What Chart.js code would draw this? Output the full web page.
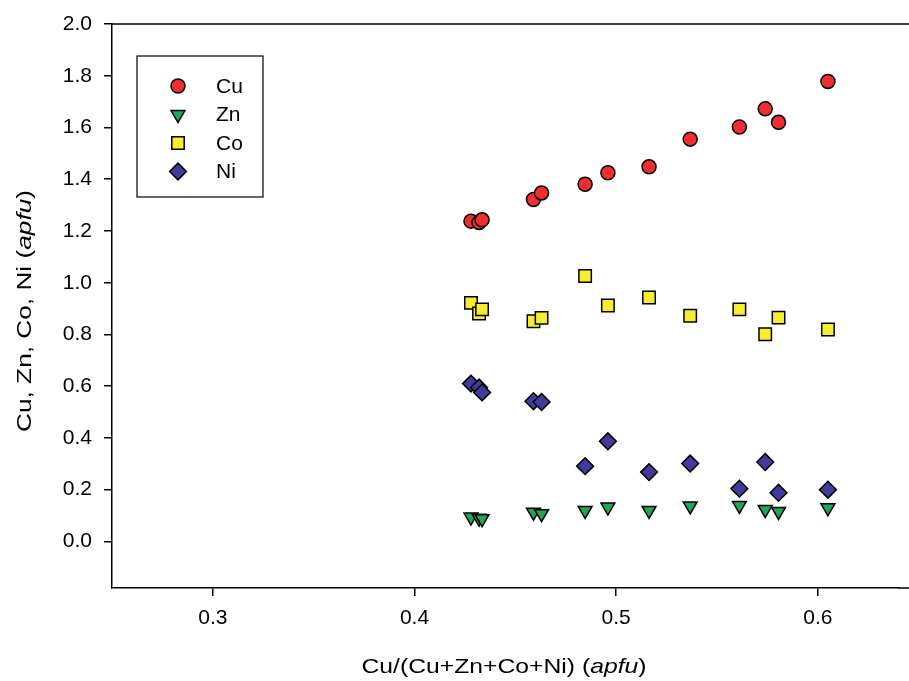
<!DOCTYPE html>
<html><head><meta charset="utf-8">
<style>html,body{margin:0;padding:0;overflow:hidden;background:#fff}
canvas{display:block}</style>
<script src="https://cdn.jsdelivr.net/npm/chart.js@4/dist/chart.umd.min.js"></script>
</head><body><canvas id="c" width="909" height="681" style="width:909px;height:681px"></canvas>
<script>
// Cu/(Cu+Zn+Co+Ni) ratio of each analysis
const xRatio = [0.428, 0.432, 0.4335, 0.459, 0.463, 0.4846, 0.4959, 0.5163, 0.5367, 0.5611, 0.5739, 0.5805, 0.605];
const cuValues = [1.238, 1.233, 1.243, 1.322, 1.347, 1.381, 1.425, 1.448, 1.555, 1.602, 1.672, 1.620, 1.778];
const znValues = [0.094, 0.090, 0.088, 0.113, 0.107, 0.120, 0.133, 0.120, 0.137, 0.139, 0.123, 0.116, 0.130];
const coValues = [0.922, 0.881, 0.897, 0.851, 0.864, 1.026, 0.912, 0.943, 0.872, 0.897, 0.801, 0.865, 0.819];
const niValues = [0.610, 0.595, 0.576, 0.542, 0.539, 0.291, 0.387, 0.268, 0.301, 0.204, 0.307, 0.188, 0.200];
const seriesNames = ['Cu', 'Zn', 'Co', 'Ni'];
const xTickValues = [0.3, 0.4, 0.5, 0.6];
const yTickValues = [0.0, 0.2, 0.4, 0.6, 0.8, 1.0, 1.2, 1.4, 1.6, 1.8, 2.0];

const FONT = "'Liberation Sans', Arial, sans-serif";
const X_MIN = 0.25;
const PX_PER_UNIT = 2016.7; // horizontal scale of the original (frame cropped on the right)
const toPts = arr => arr.map((v, i) => ({x: xRatio[i], y: v}));

const styles = [
  {pointStyle: 'circle', color: '#ee2f30', radius: 7, rotation: 0},
  {pointStyle: 'triangle', color: '#1fa85a', radius: 8, rotation: 180},
  {pointStyle: 'rect', color: '#f4ee2e', radius: 8.8, rotation: 0},
  {pointStyle: 'rectRot', color: '#433b9c', radius: 8.4, rotation: 0}
];
const valueSets = [cuValues, znValues, coValues, niValues];

const datasets = seriesNames.map((name, i) => ({
  label: name,
  data: toPts(valueSets[i]),
  pointStyle: styles[i].pointStyle,
  rotation: styles[i].rotation,
  pointRadius: styles[i].radius,
  pointHoverRadius: styles[i].radius,
  backgroundColor: styles[i].color,
  borderColor: '#000',
  borderWidth: 1.5,
  order: 4 - i
}));

function drawShape(ctx, style, x, y) {
  Chart.helpers.drawPoint(ctx, {pointStyle: style.pointStyle, radius: style.radius, rotation: style.rotation, borderWidth: 1.5}, x, y);
}

const framePlugin = {
  id: 'frame',
  beforeDatasetsDraw(chart) {
    const {ctx, chartArea: a} = chart;
    ctx.save();
    ctx.strokeStyle = '#000';
    ctx.lineWidth = 1.5;
    ctx.beginPath();
    ctx.moveTo(a.left, a.top); ctx.lineTo(chart.width, a.top);
    ctx.moveTo(a.right - 1, a.bottom); ctx.lineTo(chart.width, a.bottom);
    ctx.stroke();
    ctx.restore();
  },
  afterDraw(chart) {
    const {ctx, chartArea: a} = chart;
    ctx.save();
    // legend box
    const lx = a.left + 25, ly = a.top + 32, lw = 126, lh = 141;
    ctx.strokeStyle = '#000'; ctx.lineWidth = 1.2;
    ctx.strokeRect(lx, ly, lw, lh);
    ctx.textBaseline = 'middle';
    chart.data.datasets.forEach((ds, i) => {
      const yy = ly + 30 + i * 28.5;
      ctx.save();
      ctx.fillStyle = ds.backgroundColor; ctx.strokeStyle = ds.borderColor; ctx.lineWidth = 1.5;
      drawShape(ctx, styles[i], lx + 41, yy);
      ctx.restore();
      ctx.fillStyle = '#000';
      ctx.font = '21px ' + FONT;
      ctx.fillText(ds.label, lx + 79, yy + 1);
    });
    // axis titles with italic unit, slightly widened like the original
    function mixed(parts, targetW) {
      const size = 21;
      let total = 0;
      parts.forEach(p => { ctx.font = (p.it ? 'italic ' : '') + size + 'px ' + FONT; p.w = ctx.measureText(p.t).width; total += p.w; });
      ctx.scale(targetW / total, 1);
      let x = -total / 2;
      ctx.textBaseline = 'middle'; ctx.textAlign = 'left';
      parts.forEach(p => { ctx.font = (p.it ? 'italic ' : '') + size + 'px ' + FONT; ctx.fillText(p.t, x, 0); x += p.w; });
    }
    ctx.fillStyle = '#000';
    ctx.save();
    ctx.translate(504, 667);
    mixed([{t: 'Cu/(Cu+Zn+Co+Ni) ('}, {t: 'apfu', it: true}, {t: ')'}], 285);
    ctx.restore();
    ctx.save();
    ctx.translate(25, 311);
    ctx.rotate(-Math.PI / 2);
    mixed([{t: 'Cu, Zn, Co, Ni ('}, {t: 'apfu', it: true}, {t: ')'}], 242);
    ctx.restore();
    ctx.restore();
  }
};

const chart = new Chart(document.getElementById('c'), {
  type: 'scatter',
  data: {datasets},
  options: {
    responsive: false, maintainAspectRatio: false, animation: false, devicePixelRatio: 1,
    layout: {padding: {top: 24, right: 0, left: 0, bottom: 0}},
    plugins: {legend: {display: false}, tooltip: {enabled: false}},
    scales: {
      x: {
        type: 'linear', min: X_MIN, max: 0.6453,
        afterBuildTicks: s => { s.ticks = xTickValues.map(v => ({value: v})); },
        afterFit: s => { s.height = 93; s.paddingLeft = 0; s.paddingRight = 0; },
        ticks: {callback: v => v.toFixed(1), color: '#000', font: {family: FONT, size: 21}, padding: 10, maxRotation: 0},
        grid: {display: true, drawOnChartArea: false, drawTicks: true, tickLength: 8, color: '#000', lineWidth: 1.5},
        border: {display: true, color: '#000', width: 1.5}
      },
      y: {
        type: 'linear', min: -0.18, max: 2.0,
        afterBuildTicks: s => { s.ticks = yTickValues.map(v => ({value: v})); },
        afterFit: s => { s.width = 112; s.paddingTop = 0; s.paddingBottom = 0; },
        ticks: {callback: v => v.toFixed(1), color: '#000', font: {family: FONT, size: 21}, padding: 12},
        grid: {display: true, drawOnChartArea: false, drawTicks: true, tickLength: 8, color: '#000', lineWidth: 1.5},
        border: {display: true, color: '#000', width: 1.5}
      }
    }
  },
  plugins: [framePlugin]
});
// keep the original horizontal scale whatever width the layout leaves to the plot area
for (let k = 0; k < 2; k++) {
  const a = chart.chartArea;
  chart.options.scales.x.max = X_MIN + (a.right - a.left) / PX_PER_UNIT;
  chart.update();
}
</script></body></html>
